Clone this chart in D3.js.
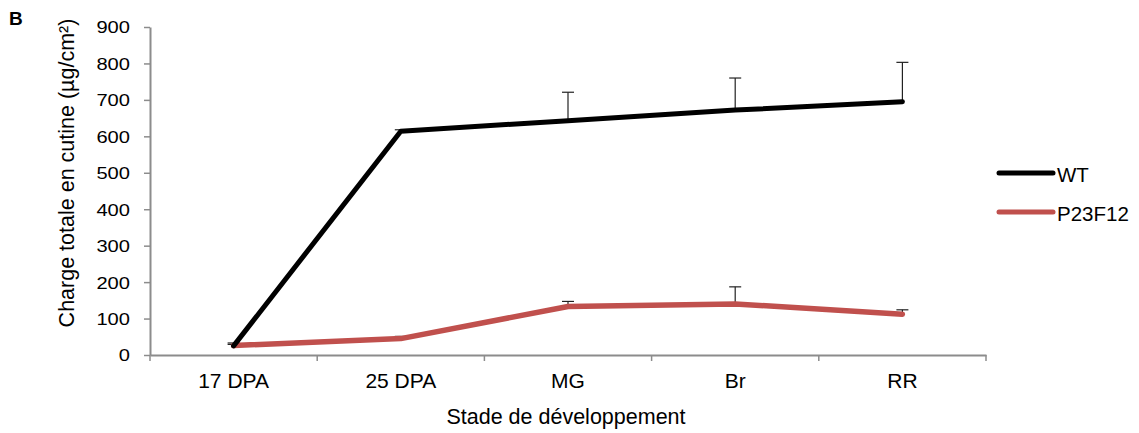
<!DOCTYPE html>
<html>
<head>
<meta charset="utf-8">
<script src="https://cdn.jsdelivr.net/npm/d3@7"></script>
<style>
  html, body { margin: 0; padding: 0; background: #fff; }
  svg { display: block; font-family: "Liberation Sans", Arial, sans-serif; }
</style>
</head>
<body>
<svg id="chart" width="1139" height="433"></svg>
<script>
// ---- data ----
const categories = ["17 DPA", "25 DPA", "MG", "Br", "RR"];
const wtValues = [25, 614, 643, 672, 695];
const wtErrors = [8, 4, 78, 88, 108];
const mutValues = [26, 45, 133, 140, 112];
const mutErrors = [3, 6, 14, 47, 12];
const yTicks = [0, 100, 200, 300, 400, 500, 600, 700, 800, 900];
const seriesNames = ["WT", "P23F12"];
const seriesColors = ["#000000", "#C0504D"];

const svg = d3.select("#chart");
const axisColor = "#8c8c8c";

const x = d3.scaleBand().domain(categories).range([150, 986]).paddingInner(0).paddingOuter(0);
const y = d3.scaleLinear().domain([0, 900]).range([355, 27]);
const cx = d => x(d) + x.bandwidth() / 2;

// y axis
const yAxisG = svg.append("g")
  .attr("transform", "translate(150,0)")
  .call(d3.axisLeft(y).tickValues(yTicks).tickSize(6).tickPadding(0).tickSizeOuter(0));
yAxisG.select(".domain").attr("stroke", axisColor).attr("stroke-width", 2);
yAxisG.selectAll(".tick line").attr("stroke", axisColor).attr("stroke-width", 1.5);
yAxisG.selectAll(".tick text")
  .attr("x", 0).attr("dy", "0.36em")
  .attr("transform", "translate(-20,0) scale(1.22,1)")
  .attr("font-size", 16.5)
  .attr("font-family", "Liberation Sans, Arial, sans-serif")
  .attr("fill", "#000");

// x axis (labels at band centers)
const xAxisG = svg.append("g")
  .attr("transform", "translate(0,355)")
  .call(d3.axisBottom(x).tickSize(0).tickPadding(0).tickSizeOuter(0));
xAxisG.select(".domain").attr("stroke", axisColor).attr("stroke-width", 2);
xAxisG.selectAll(".tick text")
  .attr("y", 33).attr("dy", 0)
  .attr("font-size", 21)
  .attr("font-family", "Liberation Sans, Arial, sans-serif")
  .attr("fill", "#000");

// x boundary ticks
const boundaries = categories.map(c => x(c)).concat([x(categories[categories.length - 1]) + x.bandwidth()]);
svg.append("g").selectAll("line").data(boundaries).join("line")
  .attr("x1", d => d).attr("x2", d => d)
  .attr("y1", 355).attr("y2", 361)
  .attr("stroke", axisColor).attr("stroke-width", 1.5);

// error bars
const series = [
  { name: seriesNames[0], color: seriesColors[0], values: wtValues, errors: wtErrors },
  { name: seriesNames[1], color: seriesColors[1], values: mutValues, errors: mutErrors }
];
series.forEach(s => {
  const g = svg.append("g");
  const pts = categories.map((c, i) => ({ c, v: s.values[i], e: s.errors[i] }));
  g.selectAll("line.v").data(pts).join("line").attr("class", "v")
    .attr("x1", d => cx(d.c)).attr("x2", d => cx(d.c))
    .attr("y1", d => y(d.v)).attr("y2", d => y(d.v + d.e))
    .attr("stroke", "#222").attr("stroke-width", 1.2);
  g.selectAll("line.cap").data(pts).join("line").attr("class", "cap")
    .attr("x1", d => cx(d.c) - 6).attr("x2", d => cx(d.c) + 6)
    .attr("y1", d => y(d.v + d.e)).attr("y2", d => y(d.v + d.e))
    .attr("stroke", "#222").attr("stroke-width", 1.2);
});

// lines
const line = d3.line().x(d => cx(d.c)).y(d => y(d.v));
[series[1], series[0]].forEach(s => {
  const pts = categories.map((c, i) => ({ c, v: s.values[i] }));
  svg.append("path").datum(pts)
    .attr("d", line)
    .attr("fill", "none")
    .attr("stroke", s.color)
    .attr("stroke-width", s.name === "WT" ? 5 : 5.5)
    .attr("stroke-linejoin", "round")
    .attr("stroke-linecap", "round");
});

// axis titles
svg.append("text")
  .attr("x", 566).attr("y", 424)
  .attr("text-anchor", "middle")
  .attr("font-size", 21.5)
  .text("Stade de développement");

svg.append("text")
  .attr("transform", "translate(74,173) rotate(-90)")
  .attr("text-anchor", "middle")
  .attr("font-size", 21.5)
  .text("Charge totale en cutine (µg/cm²)");

// panel label
svg.append("text")
  .attr("x", 9).attr("y", 24.5)
  .attr("font-size", 19).attr("font-weight", "bold")
  .text("B");

// legend
const legendY = [173, 212];
const leg = svg.append("g");
series.forEach((s, i) => {
  leg.append("line")
    .attr("x1", 999).attr("x2", 1053)
    .attr("y1", legendY[i]).attr("y2", legendY[i])
    .attr("stroke", s.color).attr("stroke-width", 5)
    .attr("stroke-linecap", "round");
  leg.append("text")
    .attr("x", 1057).attr("y", legendY[i] + 8.5)
    .attr("font-size", 20.5)
    .text(s.name);
});
</script>
</body>
</html>
